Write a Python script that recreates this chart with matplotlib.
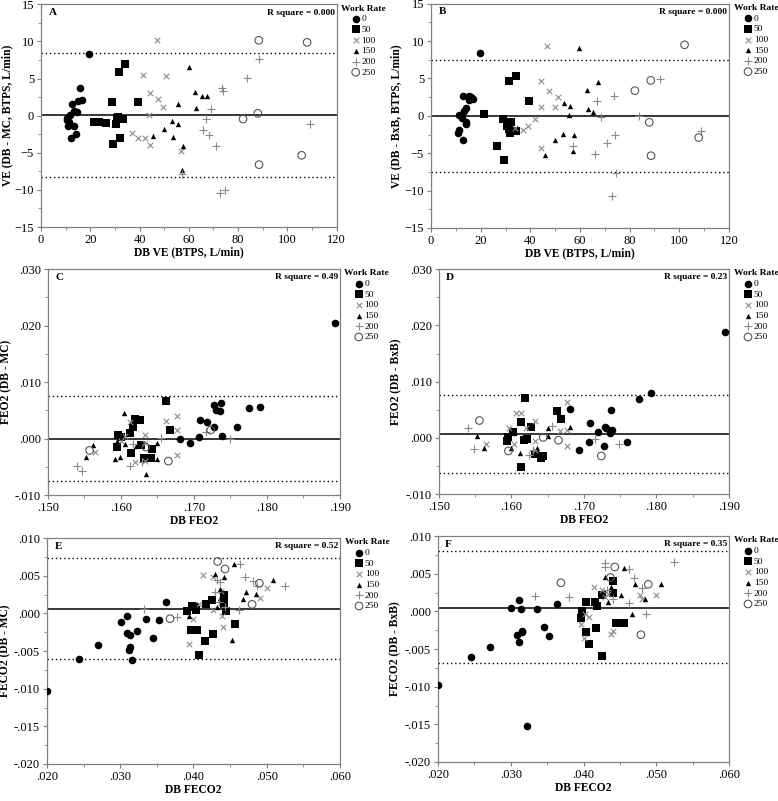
import matplotlib
matplotlib.use("Agg")
import matplotlib.pyplot as plt
from matplotlib.ticker import MultipleLocator, AutoMinorLocator, FuncFormatter

plt.rcParams["font.family"] = ["Liberation Serif", "DejaVu Serif"]

RATES = [0, 50, 100, 150, 200, 250]

# --- A: VE, DB - MC ---
A_X = {
    0: [19.3, 15.7, 16.6, 15.0, 12.6, 13.5, 14.6, 10.5, 11.9, 11.2, 10.9, 13.5, 14.3, 12.3, 10.4],
    50: [34.2, 31.5, 28.8, 39.3, 21.5, 23.6, 26.2, 30.8, 30.4, 33.4, 32.2, 29.2, 31.1],
    100: [46.9, 41.6, 50.8, 44.1, 47.3, 49.7, 43.8, 36.9, 39.3, 42.3, 44.2, 56.8],
    150: [59.9, 62.6, 65.2, 67.3, 55.5, 63.1, 53.2, 55.8, 50.0, 45.5, 53.4, 57.8, 57.2],
    200: [88.6, 83.8, 73.6, 73.9, 69.1, 66.8, 109.1, 65.6, 68.2, 70.9, 57.3, 72.8, 74.7],
    250: [88.4, 108.0, 82.0, 88.0, 105.8, 88.5],
}
A_Y = {
    0: [8.35, 3.77, 2.16, 1.98, 1.53, 0.63, 0.49, -0.27, 0.04, -0.85, -1.39, -1.44, -2.51, -3.05, -0.6],
    50: [7.0, 5.88, 1.89, 1.89, -0.81, -0.81, -0.94, -0.27, -1.17, -0.45, -2.96, -3.86, -0.18],
    100: [10.15, 5.52, 5.34, 3.05, 2.29, 1.17, 0.09, -2.33, -3.0, -3.0, -4.0, -4.76],
    150: [6.56, 3.19, 2.65, 2.65, 1.62, 0.99, -0.76, -1.08, -1.75, -2.69, -2.92, -4.04, -7.27],
    200: [7.59, 5.03, 3.73, 3.32, 0.94, -0.4, -1.17, -1.98, -2.56, -4.13, -7.86, -10.42, -9.97],
    250: [10.15, 9.88, -0.45, 0.31, -5.34, -6.6],
}

# --- B: VE, DB - BxB ---
B_X = {
    0: [19.6, 12.9, 15.4, 16.2, 16.9, 15.1, 13.9, 13.1, 12.2, 11.1, 12.3, 14.2, 13.9, 11.4, 10.9, 12.7],
    50: [34.1, 31.6, 39.5, 21.3, 28.8, 32.4, 30.5, 31.3, 31.7, 34.1, 26.5, 29.3],
    100: [46.9, 44.3, 47.7, 51.2, 44.1, 49.8, 42.0, 39.2, 37.2, 33.8, 44.3],
    150: [59.7, 67.2, 62.7, 53.4, 55.9, 63.1, 65.1, 55.7, 57.7, 53.3, 50.1, 45.8, 57.2],
    200: [92.4, 73.7, 66.7, 68.6, 83.8, 108.9, 74.0, 70.9, 65.9, 57.2, 74.6, 72.8],
    250: [102.1, 88.5, 82.1, 87.9, 88.6, 107.8],
}
B_Y = {
    0: [8.45, 2.70, 2.6, 2.5, 2.3, 2.1, 1.05, 0.6, 0.02, 0.11, -0.29, -0.87, -1.1, -1.85, -2.3, -3.19],
    50: [5.37, 4.7, 1.98, 0.25, -0.42, -0.83, -1.32, -1.77, -2.27, -2.08, -4.04, -5.86],
    100: [9.39, 4.7, 3.37, 2.52, 1.14, 1.18, -0.47, -1.32, -1.94, -1.63, -4.3],
    150: [9.03, 4.48, 3.5, 1.67, 1.27, 0.96, 0.47, 0.11, -2.56, -2.39, -3.28, -5.24, -4.66],
    200: [4.97, 2.61, 1.94, -0.2, 0.02, -1.98, -2.5, -3.63, -5.1, -4.06, -7.65, -10.77],
    250: [9.5, 4.74, 3.37, -0.87, -5.33, -2.9],
}

# --- C: FEO2, DB - MC ---
C_X = {
    0: [.1893, .1776, .1791, .1728, .1737, .1730, .1736, .1709, .1718, .1727, .1759, .1739, .1707, .1681, .1694],
    50: [.1662, .1619, .1626, .1617, .1613, .1667, .1596, .1600, .1594, .1628, .1643, .1614, .1632, .1641],
    100: [.1677, .1662, .1613, .1677, .1633, .1605, .1565, .1600, .1633, .1677, .1619, .1633],
    150: [.1604, .1562, .1552, .1594, .1605, .1621, .1650, .1599, .1592, .1649, .1635],
    200: [.1655, .1749, .1716, .1540, .1547, .1613, .1629, .1616],
    250: [.1557, .1723, .1634, .1665],
}
C_Y = {
    0: [.0205, .0054, .0056, .0060, .0063, .0050, .0048, .0033, .0029, .0020, .0020, .0005, .0003, -.0001, -.0007],
    50: [.0066, .0035, .0033, .0020, .0009, .0015, .0006, .0002, -.0015, -.0012, -.0019, -.0025, -.0034, -.0034],
    100: [.0040, .0031, .0030, .0015, .0006, .0005, -.0024, -.0004, -.0007, -.0030, -.0041, -.0039],
    150: [.0046, -.0011, -.0033, -.0005, -.0009, -.0014, -.0007, -.0032, -.0036, -.0037, -.0062],
    200: [.0001, .0000, .0012, -.0048, -.0057, -.0048, -.0041, -.0009],
    250: [-.0021, .0015, -.0015, -.0040],
}

# --- D: FEO2, DB - BxB ---
D_X = {
    0: [.1894, .1792, .1776, .1737, .1681, .1709, .1729, .1731, .1719, .1739, .1736, .1759, .1707, .1693, .1728],
    50: [.1619, .1663, .1668, .1614, .1627, .1602, .1596, .1594, .1618, .1633, .1643, .1641, .1614, .1621],
    100: [.1677, .1606, .1614, .1633, .1667, .1677, .1620, .1597, .1565, .1603, .1633, .1677, .1633],
    150: [.1552, .1563, .1601, .1605, .1599, .1612, .1619, .1636, .1650, .1650, .1681],
    200: [.1540, .1548, .1656, .1716, .1749, .1624, .1630],
    250: [.1556, .1596, .1644, .1665, .1724],
}
D_Y = {
    0: [.0189, .0080, .0070, .0049, .0052, .0026, .0020, .0017, .0011, .0014, .0008, -.0007, -.0008, -.0022, -.0015],
    50: [.0071, .0048, .0033, .0029, .0020, .0011, .0002, -.0005, -.0004, -.0029, -.0032, -.0035, -.0052, -.0002],
    100: [.0064, .0045, .0045, .0030, .0013, .0015, .0017, .0017, -.0011, -.0011, -.0005, -.0014, -.0022],
    150: [.0003, -.0018, .0009, .0010, -.0018, -.0026, -.0004, -.0018, .0018, .0004, .0019],
    200: [.0017, -.0020, .0021, -.0001, -.0011, -.0030, -.0021],
    250: [.0031, -.0023, .0001, -.0004, -.0032],
}

# --- E: FECO2, DB - MC ---
E_X = {
    0: [.0200, .0244, .0270, .0301, .0309, .0309, .0313, .0323, .0314, .0312, .0316, .0335, .0345, .0353, .0363],
    50: [.0391, .0398, .0402, .0403, .0417, .0425, .0441, .0441, .0441, .0445, .0397, .0405, .0426, .0416, .0407, .0456],
    100: [.0413, .0426, .0500, .0491, .0437, .0407, .0426, .0400, .0439, .0440, .0394],
    150: [.0455, .0429, .0442, .0508, .0472, .0486, .0467, .0436, .0436, .0432, .0394, .0452],
    200: [.0464, .0471, .0481, .0487, .0525, .0432, .0436, .0430, .0443, .0462, .0333, .0378, .0435],
    250: [.0433, .0443, .0490, .0480, .0368],
}
E_Y = {
    0: [-.0103, -.0060, -.0042, -.0012, -.0003, -.0026, -.0029, -.0023, -.0044, -.0048, -.0062, -.0008, -.0033, -.0009, .0015],
    50: [.0003, .0010, .0009, .0004, .0013, .0018, .0013, .0025, .0019, .0003, -.0022, -.0022, -.0028, -.0037, -.0055, -.0014],
    100: [.0051, .0048, .0034, .0021, .0030, .0013, .0004, -.0008, -.0004, -.0018, -.0040],
    150: [.0065, .0052, .0049, .0045, .0029, .0026, .0019, .0032, .0020, .0009, -.0003, -.0035],
    200: [.0065, .0048, .0043, .0037, .0037, .0045, .0042, .0029, .0009, .0004, .0006, -.0005, .0015],
    250: [.0069, .0059, .0040, .0012, -.0007],
}

# --- F: FECO2, DB - BxB ---
F_X = {
    0: [.0200, .0246, .0272, .0301, .0311, .0314, .0336, .0363, .0309, .0312, .0316, .0316, .0346, .0353, .0323],
    50: [.0426, .0441, .0440, .0416, .0418, .0403, .0398, .0397, .0404, .0417, .0407, .0445, .0456, .0426],
    100: [.0415, .0426, .0429, .0433, .0477, .0500, .0480, .0397, .0408, .0400, .0440, .0438, .0402],
    150: [.0455, .0429, .0438, .0471, .0507, .0452, .0485, .0433, .0397, .0467],
    200: [.0524, .0429, .0429, .0463, .0470, .0480, .0380, .0333, .0462, .0486, .0441, .0432],
    250: [.0369, .0443, .0437, .0489, .0479],
}
F_Y = {
    0: [-.0098, -.0061, -.0047, .0004, .0015, .0003, .0003, .0010, -.0032, -.0040, -.0026, -.0028, -.0021, -.0033, -.0152],
    50: [.0022, .0041, .0024, .0013, .0007, .0013, .0001, -.0009, -.0028, -.0022, -.0043, -.0015, -.0015, -.0059],
    100: [.0033, .0029, .0019, .0023, .0022, .0022, .0017, -.0017, -.0007, -.0035, -.0026, -.0030, -.0004],
    150: [.0058, .0046, .0033, .0036, .0037, .0022, .0016, .0013, -.0006, -.0003],
    200: [.0065, .0064, .0059, .0056, .0045, .0031, .0019, .0021, .0011, -.0003, .0016, .0028],
    250: [.0038, .0059, .0045, .0036, -.0031],
}

# mean bias, upper and lower limits of agreement
A_LINES = [0.1, 8.45, -8.2]
B_LINES = [-0.05, 7.45, -7.55]
C_LINES = [0.0, .0076, -.0076]
D_LINES = [.0007, .0076, -.0062]
E_LINES = [.0006, .0073, -.0061]
F_LINES = [.0005, .0080, -.0069]

R_SQUARE = ["0.000", "0.000", "0.49", "0.23", "0.52", "0.35"]

STYLES = {
    0: dict(marker="o", s=30, c="black", linewidths=0),
    50: dict(marker="s", s=28, c="black", linewidths=0),
    100: dict(marker="x", s=16, c="#8a8a8a", linewidths=0.8),
    150: dict(marker="^", s=15, c="black", linewidths=0),
    200: dict(marker="+", s=32, c="#8a8a8a", linewidths=0.8),
    250: dict(marker="o", s=30, facecolors="none", edgecolors="#555555", linewidths=0.8),
}


def dot_fmt(v, _pos):
    return f"{v:.3f}".replace("0.", ".", 1)


def draw_panel(ax, xs, ys, lines, letter, rsq, xlabel, ylabel, xlim, ylim,
               xstep, ystep, frac, ylab_x):
    for rate in RATES:
        ax.scatter(xs[rate], ys[rate], label=str(rate), zorder=3, **STYLES[rate])
    ax.axhline(lines[0], color="black", lw=1.1, zorder=2)
    for v in lines[1:]:
        ax.axhline(v, color="black", lw=1.0, ls=(0, (1, 2)), zorder=2)

    ax.set_xlim(xlim)
    ax.set_ylim(ylim)
    ax.xaxis.set_major_locator(MultipleLocator(xstep))
    ax.yaxis.set_major_locator(MultipleLocator(ystep))
    ax.xaxis.set_minor_locator(AutoMinorLocator(2))
    ax.yaxis.set_minor_locator(AutoMinorLocator(2))
    if frac:
        ax.xaxis.set_major_formatter(FuncFormatter(dot_fmt))
        ax.yaxis.set_major_formatter(FuncFormatter(dot_fmt))

    for sp in ax.spines.values():
        sp.set_color("#808080")
        sp.set_linewidth(0.9)
    ax.tick_params(which="both", colors="#808080", labelcolor="black",
                   labelsize=9, pad=2)
    ax.tick_params(which="major", length=3)
    ax.tick_params(which="minor", length=2.5)

    ax.set_xlabel(xlabel, fontsize=8.3, fontweight="bold", va="center")
    ax.set_ylabel(ylabel, fontsize=8.3, fontweight="bold", va="center")
    ax.xaxis.set_label_coords(0.5, -0.115)
    ax.yaxis.set_label_coords(ylab_x, 0.5)

    ax.text(0.025, 0.963, letter, transform=ax.transAxes, fontsize=8,
            fontweight="bold", va="center", ha="left")
    ax.text(0.995, 0.963, f"R square = {rsq}", transform=ax.transAxes,
            fontsize=6.8, fontweight="bold", va="center", ha="right")

    leg = ax.legend(loc="upper left", bbox_to_anchor=(1.0, 1.02), frameon=False,
                    title="Work Rate", fontsize=6.8, handlelength=0.8,
                    handletextpad=0.2, labelspacing=0.22, borderpad=0.3,
                    borderaxespad=0.2, scatterpoints=1, markerscale=1.0,
                    title_fontproperties={"weight": "bold", "size": 6.8})
    return leg


fig = plt.figure(figsize=(7.78, 8.01), dpi=100)

axA = fig.add_axes([0.0527, 0.7166, 0.380, 0.278])
axB = fig.add_axes([0.554, 0.7154, 0.383, 0.280])
axC = fig.add_axes([0.0617, 0.382, 0.375, 0.282])
axD = fig.add_axes([0.564, 0.383, 0.373, 0.281])
axE = fig.add_axes([0.0604, 0.0462, 0.3766, 0.282])
axF = fig.add_axes([0.563, 0.0487, 0.374, 0.282])

draw_panel(axA, A_X, A_Y, A_LINES, "A", R_SQUARE[0], "DB VE (BTPS, L/min)",
           "VE (DB - MC, BTPS, L/min)", (0, 120), (-15, 15), 20, 5, False, -0.115)
draw_panel(axB, B_X, B_Y, B_LINES, "B", R_SQUARE[1], "DB VE (BTPS, L/min)",
           "VE (DB - BxB, BTPS, L/min)", (0, 120), (-15, 15), 20, 5, False, -0.116)
draw_panel(axC, C_X, C_Y, C_LINES, "C", R_SQUARE[2], "DB FEO2",
           "FEO2 (DB - MC)", (.150, .190), (-.010, .030), .010, .010, True, -0.143)
draw_panel(axD, D_X, D_Y, D_LINES, "D", R_SQUARE[3], "DB FEO2",
           "FEO2 (DB - BxB)", (.150, .190), (-.010, .030), .010, .010, True, -0.148)
draw_panel(axE, E_X, E_Y, E_LINES, "E", R_SQUARE[4], "DB FECO2",
           "FECO2 (DB - MC)", (.020, .060), (-.020, .010), .010, .005, True, -0.142)
draw_panel(axF, F_X, F_Y, F_LINES, "F", R_SQUARE[5], "DB FECO2",
           "FECO2 (DB - BxB)", (.020, .060), (-.020, .010), .010, .005, True, -0.146)

fig.savefig("out.png", dpi=100)
